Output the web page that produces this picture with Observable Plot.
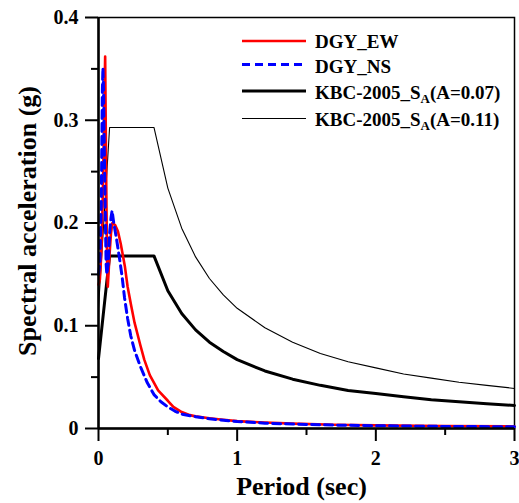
<!DOCTYPE html>
<html>
<head>
<meta charset="utf-8">
<script src="https://cdn.jsdelivr.net/npm/d3@7"></script>
<script src="https://cdn.jsdelivr.net/npm/@observablehq/plot@0.6"></script>
<style>
  html, body { margin: 0; padding: 0; background: #fff; }
  #chart svg { display: block; }
</style>
</head>
<body>
<div id="chart"></div>
<script>
// ---- Data ----
const periodsEW = [0, 0.01, 0.02, 0.03, 0.04, 0.048, 0.055, 0.062, 0.067, 0.08, 0.09, 0.1, 0.12, 0.14, 0.16, 0.19, 0.21, 0.235, 0.26, 0.3, 0.33, 0.37, 0.43, 0.5, 0.54, 0.6, 0.66, 0.7, 0.8, 0.9, 1.0, 1.2, 1.4, 1.7, 2.0, 2.5, 3.0];
const saEW      = [0.14, 0.145, 0.17, 0.22, 0.30, 0.362, 0.25, 0.16, 0.138, 0.17, 0.19, 0.2, 0.198, 0.192, 0.18, 0.158, 0.138, 0.12, 0.103, 0.082, 0.067, 0.052, 0.037, 0.027, 0.021, 0.016, 0.013, 0.0118, 0.0100, 0.0085, 0.0072, 0.0058, 0.0047, 0.0036, 0.0030, 0.0024, 0.0020];

const periodsNS = [0, 0.01, 0.02, 0.028, 0.032, 0.036, 0.045, 0.055, 0.06, 0.07, 0.08, 0.09, 0.098, 0.11, 0.127, 0.15, 0.17, 0.188, 0.21, 0.233, 0.26, 0.3, 0.35, 0.4, 0.45, 0.5, 0.55, 0.6, 0.7, 0.8, 0.9, 1.0, 1.2, 1.4, 1.7, 2.0, 2.5, 3.0];
const saNS      = [0.15, 0.16, 0.22, 0.33, 0.351, 0.33, 0.24, 0.16, 0.15, 0.16, 0.19, 0.205, 0.212, 0.2, 0.187, 0.167, 0.148, 0.127, 0.107, 0.09, 0.076, 0.061, 0.045, 0.033, 0.026, 0.021, 0.017, 0.014, 0.0115, 0.0095, 0.008, 0.0068, 0.0052, 0.0043, 0.0033, 0.0027, 0.0020, 0.0017];

const periodsKBC = [0, 0.08, 0.4, 0.5, 0.6, 0.7, 0.8, 0.9, 1.0, 1.2, 1.4, 1.6, 1.8, 2.0, 2.2, 2.4, 2.6, 2.8, 3.0];
const kbcA007    = [0.068, 0.168, 0.168, 0.134, 0.112, 0.096, 0.084, 0.075, 0.067, 0.056, 0.048, 0.042, 0.037, 0.034, 0.031, 0.028, 0.026, 0.024, 0.0224];
const kbcA011    = [0.117, 0.293, 0.293, 0.234, 0.195, 0.167, 0.146, 0.130, 0.117, 0.098, 0.084, 0.073, 0.065, 0.059, 0.053, 0.049, 0.045, 0.042, 0.039];

const xMajorTicks = [0, 1, 2, 3];
const xMinorTicks = [0.5, 1.5, 2.5];
const yMajorTicks = [0, 0.1, 0.2, 0.3, 0.4];
const yMinorTicks = [0.05, 0.15, 0.25, 0.35];

const xTitle = "Period (sec)";
const yTitle = "Spectral acceleration (g)";

const seriesNames = ["DGY_EW", "DGY_NS", "KBC-2005_S", "KBC-2005_S"];

// ---- Build tables ----
const toRows = (xs, ys) => xs.map((x, i) => ({x, y: ys[i]}));
const ew = toRows(periodsEW, saEW);
const ns = toRows(periodsNS, saNS);
const k07 = toRows(periodsKBC, kbcA007);
const k11 = toRows(periodsKBC, kbcA011);

const FONT = "'Liberation Serif', 'Times New Roman', Times, serif";
const fmtY = d => d === 0 ? "0" : d3.format(".1f")(d);

const chart = Plot.plot({
  width: 519,
  height: 503,
  marginTop: 17,
  marginRight: 5,
  marginBottom: 75,
  marginLeft: 98,
  style: {fontFamily: FONT, fontWeight: "bold", fontSize: "20px", color: "#000", background: "#fff"},
  x: {domain: [0, 3]},
  y: {domain: [0, 0.4]},
  marks: [
    Plot.frame({stroke: "#000", strokeWidth: 1.5}),
    Plot.line(k11, {x: "x", y: "y", stroke: "#000", strokeWidth: 1.1}),
    Plot.line(k07, {x: "x", y: "y", stroke: "#000", strokeWidth: 3}),
    Plot.line(ew, {x: "x", y: "y", stroke: "#ff0000", strokeWidth: 2.6}),
    Plot.line(ns, {x: "x", y: "y", stroke: "#0000ff", strokeWidth: 3, strokeDasharray: "8,5"}),
    Plot.axisX({ticks: xMajorTicks, tickSize: 13, tickPadding: 9, strokeWidth: 2, tickFormat: d => String(d), fontSize: 20, fontWeight: "bold", label: null}),
    Plot.axisX({ticks: xMinorTicks, tickSize: 7, strokeWidth: 2, tickFormat: () => "", label: null}),
    Plot.axisY({ticks: yMajorTicks, tickSize: 13, tickPadding: 7, strokeWidth: 2, tickFormat: fmtY, fontSize: 20, fontWeight: "bold", label: null}),
    Plot.axisY({ticks: yMinorTicks, tickSize: 7, strokeWidth: 2, tickFormat: () => "", label: null}),
    Plot.ruleX([0], {stroke: "#000", strokeWidth: 2.5}),
    Plot.ruleY([0], {stroke: "#000", strokeWidth: 2.5}),
    Plot.text([xTitle], {frameAnchor: "bottom", dy: 58, dx: -5, fontSize: 26, fontWeight: "bold", fill: "#000", lineAnchor: "middle", textAnchor: "middle"}),
    Plot.text([yTitle], {frameAnchor: "left", dx: -71, dy: -2, rotate: -90, fontSize: 26, fontWeight: "bold", fill: "#000", lineAnchor: "middle", textAnchor: "middle"})
  ]
});

document.getElementById("chart").appendChild(chart);

// ---- Legend (inside the frame, top right) ----
const svg = d3.select(chart);
const legend = svg.append("g")
  .attr("font-family", FONT)
  .attr("font-weight", "bold")
  .attr("font-size", 19)
  .attr("text-anchor", "start")
  .attr("fill", "#000");

const legendItems = [
  {name: seriesNames[0], sub: null, tail: null, stroke: "#ff0000", width: 2.6, dash: null, lineY: 41, textY: 48},
  {name: seriesNames[1], sub: null, tail: null, stroke: "#0000ff", width: 3, dash: "8,5", lineY: 64.5, textY: 72.5},
  {name: seriesNames[2], sub: "A", tail: "(A=0.07)", stroke: "#000", width: 3, dash: null, lineY: 91, textY: 99},
  {name: seriesNames[3], sub: "A", tail: "(A=0.11)", stroke: "#000", width: 1.1, dash: null, lineY: 118.5, textY: 126}
];

legendItems.forEach(it => {
  const ln = legend.append("line")
    .attr("x1", 242).attr("x2", 306)
    .attr("y1", it.lineY).attr("y2", it.lineY)
    .attr("stroke", it.stroke).attr("stroke-width", it.width);
  if (it.dash) ln.attr("stroke-dasharray", it.dash);
  const t = legend.append("text").attr("x", 315).attr("y", it.textY).attr("text-anchor", "start");
  t.append("tspan").text(it.name);
  if (it.sub) {
    t.append("tspan").attr("font-size", 13).attr("dy", 4).text(it.sub);
    t.append("tspan").attr("dy", -4).text(it.tail);
  }
});
</script>
</body>
</html>
